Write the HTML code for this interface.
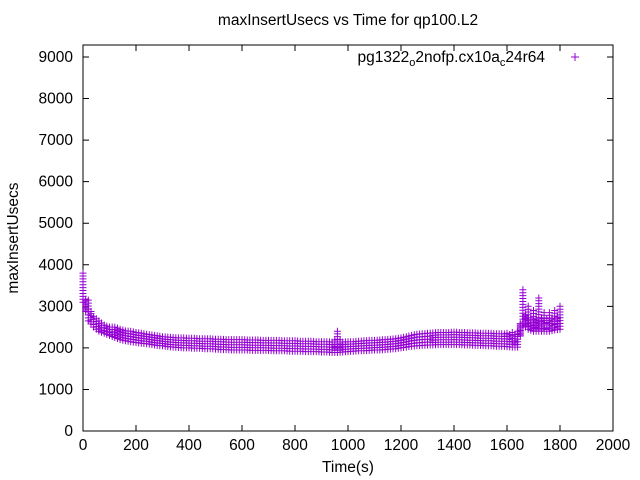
<!DOCTYPE html>
<html><head><meta charset="utf-8">
<style>
body{margin:0;background:#fff;}
svg{display:block;font-family:"Liberation Sans",sans-serif;}
</style></head>
<body>
<svg id="chart" width="640" height="480" xmlns="http://www.w3.org/2000/svg">
<rect width="640" height="480" fill="#fff"/>
<text x="348" y="25" text-anchor="middle" font-size="15.5">maxInsertUsecs vs Time for qp100.L2</text>
<rect x="83" y="45" width="530" height="386" fill="none" stroke="#000" stroke-width="1"/>
<g id="axes"></g>
<text x="348" y="472" text-anchor="middle" font-size="15.5">Time(s)</text>
<text transform="translate(18,238) rotate(-90)" text-anchor="middle" font-size="15.5">maxInsertUsecs</text>
<g>
<text x="545" y="62" text-anchor="end" font-size="15.5">pg1322<tspan font-size="11" dy="4">o</tspan><tspan dy="-4">2nofp.cx10a</tspan><tspan font-size="11" dy="4">c</tspan><tspan dy="-4">24r64</tspan></text>
<path d="M571 57h8M575 53v8" stroke="#9400d3" stroke-width="1"/>
</g>
<g id="points"></g>
</svg>
<script>
const xTicks=[0,200,400,600,800,1000,1200,1400,1600,1800,2000];
const yTicks=[0,1000,2000,3000,4000,5000,6000,7000,8000,9000];
const times=[0,20,40,60,80,100,120,140,160,180,200,220,240,260,280,300,320,340,360,380,400,420,440,460,480,500,520,540,560,580,600,620,640,660,680,700,720,740,760,780,800,820,840,860,880,900,920,940,960,980,1000,1020,1040,1060,1080,1100,1120,1140,1160,1180,1200,1220,1240,1260,1280,1300,1320,1340,1360,1380,1400,1420,1440,1460,1480,1500,1520,1540,1560,1580,1600,1620,1640,1660,1680,1700,1720,1740,1760,1780,1800];
const lowVals=[3100,2650,2500,2400,2350,2300,2250,2200,2170,2150,2130,2110,2100,2080,2060,2050,2030,2020,2010,2000,2000,1990,1990,1980,1980,1970,1960,1960,1950,1950,1950,1950,1940,1940,1940,1940,1930,1930,1930,1920,1920,1920,1910,1910,1910,1900,1900,1890,1890,1900,1910,1920,1930,1930,1940,1950,1950,1960,1970,1980,2000,2020,2040,2050,2060,2070,2070,2080,2080,2080,2080,2080,2070,2070,2060,2060,2050,2050,2040,2040,2030,2020,2020,2550,2450,2400,2400,2400,2400,2430,2450];
const highVals=[3800,3150,2750,2650,2550,2500,2500,2450,2410,2400,2370,2350,2330,2310,2290,2270,2260,2250,2240,2240,2230,2230,2220,2220,2220,2210,2210,2200,2200,2200,2200,2190,2190,2190,2180,2180,2180,2180,2170,2170,2170,2160,2160,2160,2150,2150,2150,2140,2400,2140,2150,2150,2160,2170,2180,2180,2190,2200,2210,2220,2240,2270,2300,2330,2340,2350,2360,2370,2370,2370,2380,2370,2370,2360,2360,2350,2350,2350,2340,2340,2350,2370,2400,3400,3000,2900,3200,2850,2850,2900,3000];
const X0=83,X1=613,Y0=431,Y1=57;
function sx(v){return X0+(v-0)/(2000-0)*(X1-X0);}
function sy(v){return Y0-(v-0)/(9000-0)*(Y0-Y1);}
const NS="http://www.w3.org/2000/svg";
const ax=document.getElementById('axes');
xTicks.forEach(t=>{
  const x=sx(t);
  const p=document.createElementNS(NS,'path');
  p.setAttribute('d',`M${x} 431v-6M${x} 45v6`);p.setAttribute('stroke','#000');
  
  
  ax.appendChild(p);
  const l=document.createElementNS(NS,'text');
  l.setAttribute('x',x);l.setAttribute('y',450);l.setAttribute('text-anchor','middle');l.setAttribute('font-size','15.5');
  l.textContent=t;
  
  
  ax.appendChild(l);
});
yTicks.forEach(t=>{
  const y=sy(t);
  const p=document.createElementNS(NS,'path');
  p.setAttribute('d',`M83 ${y}h6M613 ${y}h-6`);p.setAttribute('stroke','#000');
  
  
  ax.appendChild(p);
  const l=document.createElementNS(NS,'text');
  l.setAttribute('x',73);l.setAttribute('y',y+5);l.setAttribute('text-anchor','end');l.setAttribute('font-size','15.5');
  l.textContent=t;
  
  
  ax.appendChild(l);
});
const pts=document.getElementById('points');
let d='';
function plus(x,y){d+=`M${(x-3.5).toFixed(1)} ${y.toFixed(1)}h7M${x.toFixed(1)} ${(y-3.5).toFixed(1)}v7`;}
times.forEach((t,i)=>{
  const lo=lowVals[i],hi=highVals[i];
  const x=sx(t);
  const n=Math.max(2,Math.ceil((sy(lo)-sy(hi))/3));
  for(let k=0;k<=n;k++){plus(x,sy(lo+(hi-lo)*k/n));}
  if(i<times.length-1){
    const xm=sx((t+times[i+1])/2);
    const lm=(lo+lowVals[i+1])/2,hm=(hi+highVals[i+1])/2;
    const m=Math.max(2,Math.ceil((sy(lm)-sy(hm))/3));
    for(let k=0;k<=m;k++){plus(xm,sy(lm+(Math.min(hm,lm+300)-lm)*k/m));}
  }
});
const path=document.createElementNS(NS,'path');
path.setAttribute('d',d);path.setAttribute('stroke','#9400d3');path.setAttribute('stroke-width','1');path.setAttribute('fill','none');


pts.appendChild(path);
</script>
</body></html>
